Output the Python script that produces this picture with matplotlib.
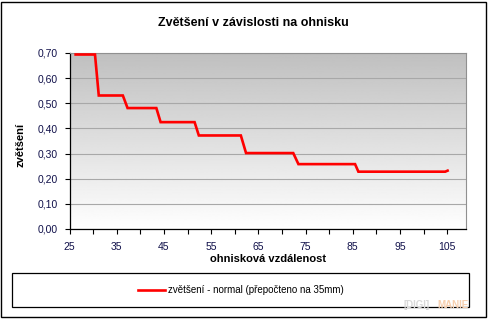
import matplotlib
matplotlib.use("Agg")
import matplotlib.pyplot as plt
import numpy as np
from matplotlib.patches import Rectangle
from matplotlib.ticker import FuncFormatter, FixedLocator, MultipleLocator

plt.rcParams['font.family'] = ['Liberation Sans', 'DejaVu Sans']

# data (step curve vertices)
focal = [26.3, 30.4, 31.2, 36.3, 37.3, 43.4, 44.3, 51.5, 52.4, 61.3,
         62.4, 72.4, 73.5, 85.5, 86.2, 104.6, 105.1]
zoom_val = [0.694, 0.694, 0.531, 0.531, 0.481, 0.481, 0.425, 0.425, 0.372, 0.372,
            0.302, 0.302, 0.258, 0.258, 0.228, 0.228, 0.232]
x_labels = [25, 35, 45, 55, 65, 75, 85, 95, 105]
series_label = "zvětšení - normal (přepočteno na 35mm)"
title_str = "Zvětšení v závislosti na ohnisku"
xlabel_str = "ohnisková vzdálenost"
ylabel_str = "zvětšení"

W, H = 488, 319
fig = plt.figure(figsize=(W / 100, H / 100), dpi=100)

# plot area in pixel coords
left, right, top, bottom = 69.5, 466, 53, 229
ax = fig.add_axes([left / W, 1 - bottom / H, (right - left) / W, (bottom - top) / H])

# gray (top) -> white (bottom) gradient background
grad = np.linspace(1.0, 0.75, 256).reshape(-1, 1)
ax.imshow(grad, extent=[0, 1, 0, 1], origin='lower', transform=ax.transAxes,
          aspect='auto', cmap='gray', vmin=0, vmax=1, zorder=0)

ax.set_xlim(25, 109)
ax.set_ylim(0, 0.7)
ax.xaxis.set_major_locator(FixedLocator(x_labels))
ax.xaxis.set_minor_locator(FixedLocator([v + 5 for v in x_labels[:-1]]))
ax.yaxis.set_major_locator(MultipleLocator(0.1))
ax.yaxis.set_major_formatter(FuncFormatter(lambda v, p: "{:.2f}".format(v).replace('.', ',')))
ax.grid(axis='y', color='#a8a8a8', linewidth=0.8, zorder=1)

ax.plot(focal, zoom_val, color='#ff0000', linewidth=1.9, label=series_label,
        solid_joinstyle='miter', zorder=3)

for s in ['top', 'right']:
    ax.spines[s].set_color('#909090')
    ax.spines[s].set_linewidth(0.8)
for s in ['left', 'bottom']:
    ax.spines[s].set_color('black')
    ax.spines[s].set_linewidth(0.9)

ax.tick_params(axis='both', which='both', direction='out', length=3.5, width=0.8,
               labelsize=7.5, labelcolor='#10104a')
ax.tick_params(axis='x', which='both', pad=6)
ax.tick_params(axis='y', pad=5)

fig.text(0.52, 1 - 23 / H, title_str, ha='center', va='center',
         fontsize=9, fontweight='bold')
fig.text(268 / W, 1 - 259 / H, xlabel_str, ha='center', va='center',
         fontsize=8, fontweight='bold')
fig.text(20 / W, 1 - 145 / H, ylabel_str, ha='center', va='center',
         fontsize=8, fontweight='bold', rotation=90)

# outer border and legend box
fig.add_artist(Rectangle((1 / W, 2 / H), 485 / W, 315 / H, transform=fig.transFigure,
                         fill=False, ec='black', lw=1))
fig.add_artist(Rectangle((11.7 / W, 1 - 307.3 / H), 457.6 / W, 34.6 / H,
                         transform=fig.transFigure, fill=False, ec='black', lw=0.9))
fig.legend(loc='center', bbox_to_anchor=(241 / W, 1 - 290 / H), frameon=False,
           fontsize=7, handlelength=2.8, handletextpad=0.3)

# watermark
fig.text(404 / W, 1 - 305 / H, "[DIGI]", ha='left', va='center', fontsize=7,
         fontweight='bold', color='#d8d8d8')
fig.text(437 / W, 1 - 305 / H, "MANIE", ha='left', va='center', fontsize=7,
         fontweight='bold', color='#f7cfae')

fig.savefig('out.png', dpi=100)
